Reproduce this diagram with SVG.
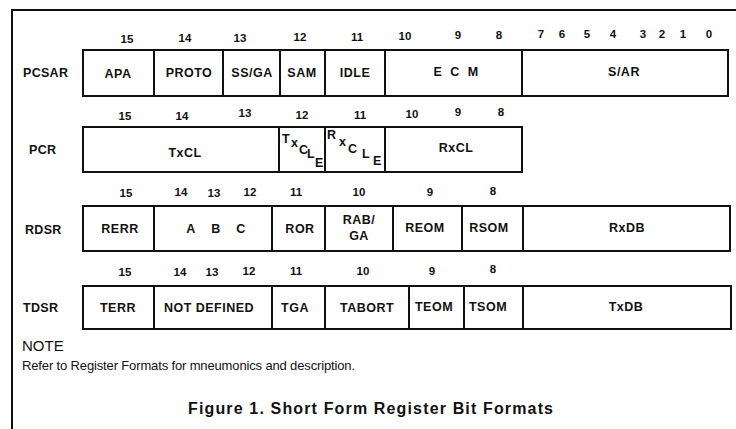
<svg xmlns="http://www.w3.org/2000/svg" width="736" height="429" viewBox="0 0 736 429">
<style>
.frame{fill:none;stroke:#111;stroke-width:2}
.box{fill:#fff;stroke:#111;stroke-width:2}
text{font-family:"Liberation Sans",Arial,sans-serif;fill:#111}
.lbl{font-size:12.5px;font-weight:bold;text-anchor:middle;letter-spacing:0.5px}
.bit{font-size:11.5px;font-weight:bold;text-anchor:middle}
.reg{font-size:12.5px;font-weight:bold;letter-spacing:0.3px}
.st{font-size:12.5px;font-weight:bold}
</style>
<rect width="736" height="429" fill="#fff"/>
<path class="frame" d="M12,429 V10 H736"/>

<g id="PCSAR">
<text class="reg" x="23" y="77">PCSAR</text>
<g class="bit">
<text class="bit" x="127" y="43">15</text><text class="bit" x="185" y="42">14</text><text class="bit" x="240" y="42">13</text><text class="bit" x="300" y="41">12</text><text class="bit" x="357" y="41">11</text><text class="bit" x="405" y="40">10</text><text class="bit" x="458" y="39">9</text><text class="bit" x="499" y="39">8</text><text class="bit" x="541" y="38">7</text><text class="bit" x="562" y="38">6</text><text class="bit" x="587" y="38">5</text><text class="bit" x="613" y="38">4</text><text class="bit" x="643" y="38">3</text><text class="bit" x="662" y="38">2</text><text class="bit" x="683" y="38">1</text><text class="bit" x="709" y="38">0</text>
</g>
<g id="PCSAR-APA"><rect class="box" x="83" y="50" width="71" height="46"/><text class="lbl" x="118" y="78">APA</text></g>
<g id="PCSAR-PROTO"><rect class="box" x="154" y="50" width="69" height="46"/><text class="lbl" x="189" y="77">PROTO</text></g>
<g id="PCSAR-SSGA"><rect class="box" x="223" y="50" width="57" height="46"/><text class="lbl" x="252" y="77">SS/GA</text></g>
<g id="PCSAR-SAM"><rect class="box" x="280" y="50" width="45" height="46"/><text class="lbl" x="302" y="77">SAM</text></g>
<g id="PCSAR-IDLE"><rect class="box" x="325" y="50" width="60" height="46"/><text class="lbl" x="355" y="77">IDLE</text></g>
<g id="PCSAR-ECM"><rect class="box" x="385" y="50" width="137" height="46"/><text class="lbl" x="456" y="76" xml:space="preserve">E  C  M</text></g>
<g id="PCSAR-SAR"><rect class="box" x="522" y="50" width="206" height="46"/><text class="lbl" x="624" y="76">S/AR</text></g>
</g>

<g id="PCR">
<text class="reg" x="29" y="154">PCR</text>
<text class="bit" x="125" y="120">15</text><text class="bit" x="182" y="120">14</text><text class="bit" x="245" y="117">13</text><text class="bit" x="302" y="119">12</text><text class="bit" x="360" y="119">11</text><text class="bit" x="412" y="118">10</text><text class="bit" x="458" y="116">9</text><text class="bit" x="501" y="116">8</text>
<g id="PCR-TxCL"><rect class="box" x="83" y="127" width="196" height="45"/><text class="lbl" x="185" y="157">TxCL</text></g>
<g id="PCR-TxCLE"><rect class="box" x="279" y="127" width="46" height="45"/>
<text class="st" x="282" y="143">T</text><text class="st" x="291" y="147">x</text><text class="st" x="299" y="154">C</text><text class="st" x="307" y="158">L</text><text class="st" x="315" y="167">E</text></g>
<g id="PCR-RxCLE"><rect class="box" x="325" y="127" width="60" height="45"/>
<text class="st" x="327" y="139">R</text><text class="st" x="339" y="146">x</text><text class="st" x="348" y="153">C</text><text class="st" x="362" y="158">L</text><text class="st" x="373" y="165">E</text></g>
<g id="PCR-RxCL"><rect class="box" x="385" y="127" width="137" height="45"/><text class="lbl" x="456" y="152">RxCL</text></g>
</g>

<g id="RDSR">
<text class="reg" x="25" y="234">RDSR</text>
<text class="bit" x="126" y="197">15</text><text class="bit" x="181" y="196">14</text><text class="bit" x="214" y="197">13</text><text class="bit" x="250" y="196">12</text><text class="bit" x="296" y="196">11</text><text class="bit" x="359" y="196">10</text><text class="bit" x="430" y="196">9</text><text class="bit" x="493" y="195">8</text>
<g id="RDSR-RERR"><rect class="box" x="83" y="206" width="71" height="45"/><text class="lbl" x="120" y="233">RERR</text></g>
<g id="RDSR-ABC"><rect class="box" x="154" y="206" width="118" height="45"/><text class="lbl" x="191" y="233">A</text><text class="lbl" x="216" y="233">B</text><text class="lbl" x="241" y="233">C</text></g>
<g id="RDSR-ROR"><rect class="box" x="272" y="206" width="53" height="45"/><text class="lbl" x="300" y="233">ROR</text></g>
<g id="RDSR-RABGA"><rect class="box" x="325" y="206" width="68" height="45"/><text class="lbl" x="359" y="224">RAB/</text><text class="lbl" x="359" y="240">GA</text></g>
<g id="RDSR-REOM"><rect class="box" x="393" y="206" width="69" height="45"/><text class="lbl" x="425" y="232">REOM</text></g>
<g id="RDSR-RSOM"><rect class="box" x="462" y="206" width="61" height="45"/><text class="lbl" x="489" y="232">RSOM</text></g>
<g id="RDSR-RxDB"><rect class="box" x="523" y="206" width="207" height="45"/><text class="lbl" x="627" y="232">RxDB</text></g>
</g>

<g id="TDSR">
<text class="reg" x="23" y="312">TDSR</text>
<text class="bit" x="125" y="276">15</text><text class="bit" x="180" y="276">14</text><text class="bit" x="212" y="276">13</text><text class="bit" x="249" y="275">12</text><text class="bit" x="296" y="275">11</text><text class="bit" x="363" y="275">10</text><text class="bit" x="432" y="275">9</text><text class="bit" x="493" y="273">8</text>
<g id="TDSR-TERR"><rect class="box" x="83" y="286" width="71" height="43"/><text class="lbl" x="118" y="312">TERR</text></g>
<g id="TDSR-ND"><rect class="box" x="154" y="286" width="118" height="43"/><text class="lbl" x="209" y="312">NOT DEFINED</text></g>
<g id="TDSR-TGA"><rect class="box" x="272" y="286" width="53" height="43"/><text class="lbl" x="295" y="312">TGA</text></g>
<g id="TDSR-TABORT"><rect class="box" x="325" y="286" width="84" height="43"/><text class="lbl" x="367" y="312">TABORT</text></g>
<g id="TDSR-TEOM"><rect class="box" x="409" y="286" width="55" height="43"/><text class="lbl" x="434" y="311">TEOM</text></g>
<g id="TDSR-TSOM"><rect class="box" x="464" y="286" width="59" height="43"/><text class="lbl" x="488" y="311">TSOM</text></g>
<g id="TDSR-TxDB"><rect class="box" x="523" y="286" width="208" height="43"/><text class="lbl" x="626" y="311">TxDB</text></g>
</g>

<g id="note">
<text x="22" y="351" style="font-size:15px">NOTE</text>
<text x="22" y="370" style="font-size:13px" textLength="333" lengthAdjust="spacing">Refer to Register Formats for mneumonics and description.</text>
<text x="188" y="414" style="font-size:16px;font-weight:bold" textLength="365" lengthAdjust="spacing">Figure 1.  Short Form Register Bit Formats</text>
</g>
</svg>
